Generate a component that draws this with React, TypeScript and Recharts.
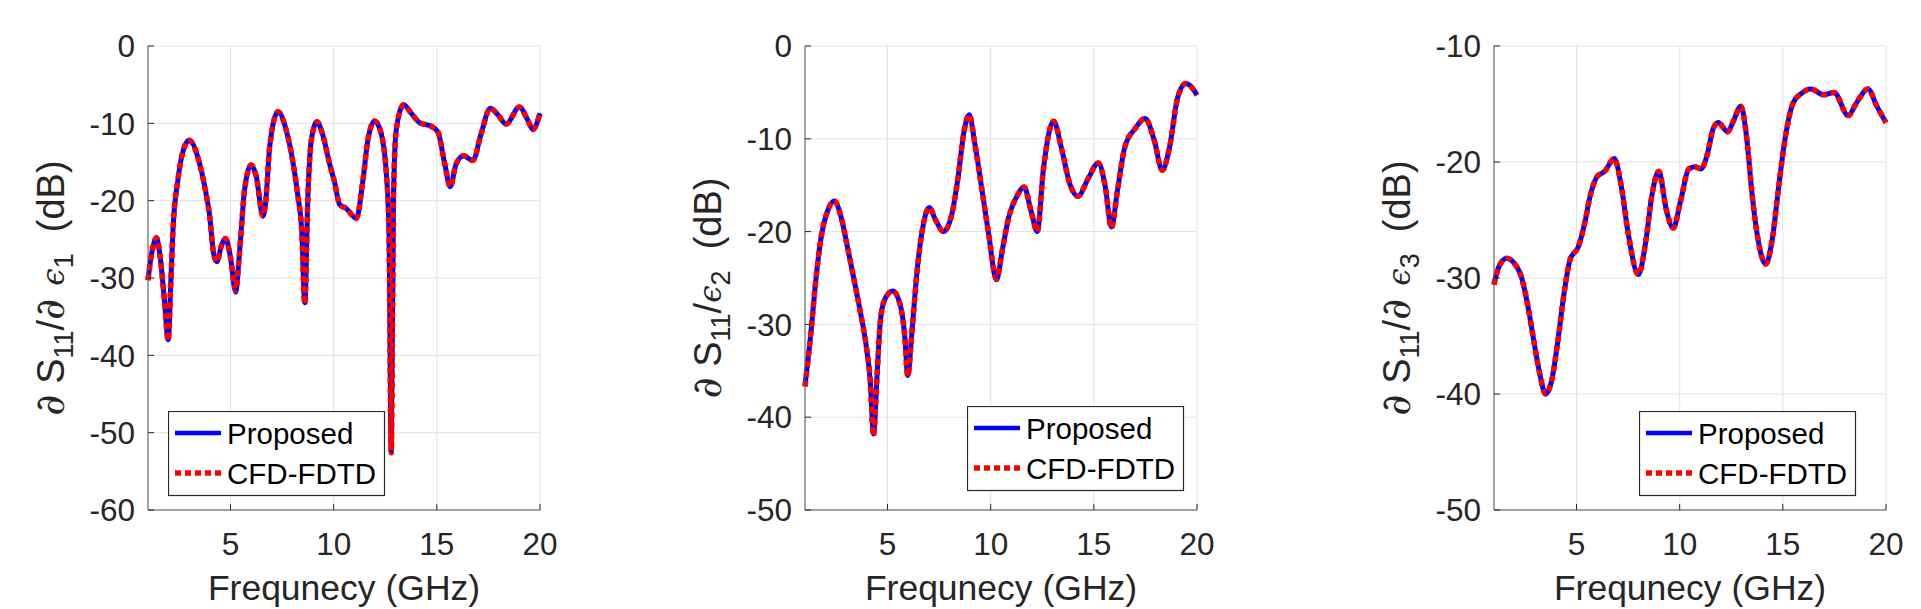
import React from 'react';
import { LineChart, Line, XAxis, YAxis, CartesianGrid, Label } from 'recharts';

const FONT = '"Liberation Sans", Arial, Helvetica, sans-serif';
const MATH_FONT = '"DejaVu Serif", "Liberation Serif", serif';
const INK = '#262626';

const freqTicks = [5, 10, 15, 20];
const yTicks1 = [0, -10, -20, -30, -40, -50, -60];
const yTicks2 = [0, -10, -20, -30, -40, -50];
const yTicks3 = [-10, -20, -30, -40, -50];

// panel 1: dS11/d eps1
const freq1 = [1.0, 1.2, 1.41, 1.6, 1.8, 1.98, 2.1, 2.21, 2.45, 2.67, 2.99, 3.5, 3.75, 3.99, 4.18, 4.34, 4.55, 4.76, 4.99, 5.25, 5.41, 5.52, 5.68, 6.0, 6.25, 6.57, 6.7, 6.9, 7.3, 7.7, 8.03, 8.27, 8.45, 8.6, 8.75, 8.92, 9.19, 9.45, 9.8, 10.05, 10.29, 10.61, 11.1, 11.42, 11.66, 11.98, 12.26, 12.55, 12.68, 12.79, 12.9, 13.03, 13.39, 13.76, 14.16, 14.73, 15.05, 15.38, 15.65, 15.94, 16.3, 16.75, 17.15, 17.59, 17.96, 18.36, 19.0, 19.41, 19.65, 20.0];
const proposed1 = [-30.2, -26.5, -24.8, -27.5, -33, -38.0, -31, -23.8, -17.3, -13.9, -12.2, -15.2, -18.2, -22.0, -26.8, -27.9, -25.9, -24.9, -27.2, -31.8, -27.6, -23.8, -18.6, -15.4, -16.9, -22.0, -20.3, -13.0, -8.5, -10.9, -15.1, -19.5, -23.8, -33.2, -19.5, -12.1, -9.8, -11.3, -15.2, -17.7, -20.5, -21.0, -22.3, -17.3, -12.1, -9.7, -10.9, -16.4, -23.8, -52.4, -19.5, -10.9, -7.6, -8.7, -9.9, -10.4, -11.1, -15.2, -18.2, -15.2, -14.2, -14.8, -11.3, -8.05, -8.9, -10.1, -7.9, -9.6, -10.8, -8.7];
const cfd1 = [-30.3, -26.5, -24.8, -27.5, -33, -38.1, -31, -23.8, -17.3, -13.9, -12.2, -15.2, -18.2, -22.0, -26.8, -27.9, -25.9, -24.9, -27.2, -31.6, -27.6, -23.8, -18.6, -15.4, -16.9, -22.0, -20.3, -13.0, -8.5, -10.9, -15.1, -19.5, -23.8, -33.4, -19.5, -12.1, -9.8, -11.3, -15.2, -17.7, -20.5, -21.0, -22.3, -17.3, -12.1, -9.7, -10.9, -16.4, -23.8, -52.6, -19.5, -10.9, -7.6, -8.7, -9.9, -10.4, -11.1, -15.2, -18.2, -15.2, -14.2, -14.8, -11.3, -8.05, -8.9, -10.1, -7.9, -9.6, -10.8, -8.7];

// panel 2: dS11/eps2
const freq2 = [1.0, 1.3, 1.53, 1.79, 2.09, 2.42, 2.78, 3.07, 3.37, 3.67, 3.96, 4.16, 4.32, 4.5, 4.65, 4.85, 5.25, 5.64, 5.84, 5.98, 6.19, 6.43, 6.73, 7.02, 7.32, 7.71, 8.11, 8.41, 8.7, 8.96, 9.23, 9.55, 9.89, 10.28, 10.58, 10.87, 11.27, 11.62, 11.96, 12.26, 12.55, 13.05, 13.44, 13.84, 14.23, 14.72, 15.22, 15.55, 15.85, 16.15, 16.5, 17.0, 17.49, 17.92, 18.32, 18.67, 19.07, 19.46, 19.76, 20.0];
const proposed2 = [-36.6, -30.6, -25.1, -20.5, -17.8, -16.7, -18.7, -21.8, -25.1, -28.5, -32.2, -36.0, -41.8, -35.2, -29.7, -27.4, -26.4, -28.1, -31.4, -35.5, -30.6, -24.3, -19.3, -17.4, -18.7, -20.0, -18.2, -14.3, -9.3, -7.4, -10.5, -15.1, -20.1, -25.2, -21.8, -18.5, -16.2, -15.2, -17.8, -20.0, -13.4, -8.1, -11.1, -14.9, -16.2, -14.3, -12.6, -15.1, -19.5, -15.5, -10.9, -8.9, -7.8, -10.1, -13.4, -10.9, -5.5, -4.05, -4.5, -5.3];
const cfd2 = [-36.7, -30.6, -25.1, -20.5, -17.8, -16.7, -18.7, -21.8, -25.1, -28.5, -32.2, -36.0, -42.0, -35.2, -29.7, -27.4, -26.4, -28.1, -31.4, -35.6, -30.6, -24.3, -19.3, -17.4, -18.7, -20.0, -18.2, -14.3, -9.3, -7.4, -10.5, -15.1, -20.1, -25.1, -21.8, -18.5, -16.2, -15.2, -17.8, -20.0, -13.4, -8.1, -11.1, -14.9, -16.2, -14.3, -12.6, -15.1, -19.6, -15.5, -10.9, -8.9, -7.8, -10.1, -13.4, -10.9, -5.5, -4.05, -4.5, -5.3];

// panel 3: dS11/d eps3
const freq3 = [1.0, 1.22, 1.61, 2.01, 2.31, 2.61, 2.9, 3.2, 3.5, 3.8, 4.09, 4.39, 4.69, 5.09, 5.38, 5.68, 5.98, 6.37, 6.83, 7.17, 7.5, 8.0, 8.36, 8.66, 8.99, 9.35, 9.69, 10.04, 10.44, 10.74, 11.04, 11.33, 11.63, 11.87, 12.32, 12.62, 12.96, 13.26, 13.51, 13.81, 14.17, 14.51, 14.8, 15.1, 15.5, 15.89, 16.35, 16.98, 17.48, 18.17, 18.57, 19.13, 19.56, 20.0];
const proposed3 = [-30.5, -29.1, -28.3, -28.8, -29.8, -32.1, -35.1, -38.1, -40.0, -38.8, -35.5, -31.4, -28.4, -27.3, -25.4, -22.8, -21.3, -20.8, -19.7, -22.1, -26.1, -29.7, -26.8, -22.8, -20.8, -24.1, -25.7, -23.4, -20.6, -20.4, -20.6, -19.4, -17.1, -16.6, -17.4, -16.4, -15.2, -18.1, -22.8, -26.8, -28.8, -26.4, -22.1, -18.1, -14.9, -14.1, -13.7, -14.2, -14.0, -16.0, -14.9, -13.7, -15.2, -16.6];
const cfd3 = [-30.6, -29.1, -28.3, -28.8, -29.8, -32.1, -35.1, -38.1, -40.0, -38.8, -35.5, -31.4, -28.4, -27.3, -25.4, -22.8, -21.3, -20.8, -19.7, -22.1, -26.1, -29.7, -26.8, -22.8, -20.8, -24.1, -25.7, -23.4, -20.6, -20.4, -20.6, -19.4, -17.1, -16.6, -17.4, -16.4, -15.2, -18.1, -22.8, -26.8, -28.8, -26.4, -22.1, -18.1, -14.9, -14.1, -13.7, -14.2, -14.0, -16.0, -14.9, -13.7, -15.2, -16.6];

const PLOT_TOP = 46;
const PLOT_BOTTOM = 510;
const PLOT_W = 392;
const Y_AXIS_W = 148;
const RIGHT_PAD = 30;
const H = 609;

const toRows = (freq: number[], a: number[], b: number[]) =>
  freq.map((f, i) => ({ f, proposed: a[i], cfd: b[i] }));

const YTitle = ({ viewBox, eps, withPartial }: any) => {
  const cx = (viewBox?.x ?? 0) + (viewBox?.width ?? Y_AXIS_W) - 84;
  const cy = PLOT_TOP + (PLOT_BOTTOM - PLOT_TOP) / 2 + 10;
  return (
    <text
      x={cx}
      y={cy}
      transform={`rotate(-90 ${cx} ${cy})`}
      textAnchor="middle"
      fontSize={38}
      fontFamily={FONT}
      fill={INK}
    >
      <tspan fontFamily={MATH_FONT} fontStyle="italic" fontSize={41}>∂</tspan>
      <tspan>{'\u00a0S'}</tspan>
      <tspan fontSize={27} dy={9}>11</tspan>
      <tspan dy={-9}>/</tspan>
      {withPartial && <tspan fontFamily={MATH_FONT} fontStyle="italic" fontSize={41}>{'∂\u00a0'}</tspan>}
      <tspan fontFamily={MATH_FONT} fontStyle="italic" fontSize={31}>ϵ</tspan>
      <tspan fontSize={27} dy={9}>{eps}</tspan>
      <tspan dy={-9}>{'\u00a0\u00a0(dB)'}</tspan>
    </text>
  );
};

const XTitle = ({ viewBox }: any) => {
  const x = (viewBox?.x ?? Y_AXIS_W) + (viewBox?.width ?? PLOT_W) / 2;
  const y = PLOT_BOTTOM + 90;
  return (
    <text x={x} y={y} textAnchor="middle" fontSize={35.5} fontFamily={FONT} fill={INK}>
      Frequnecy (GHz)
    </text>
  );
};

const LegendBox = ({ left, top }: { left: number; top: number }) => (
  <svg width={218} height={86} style={{ position: 'absolute', left, top }}>
    <rect x={0.5} y={0.5} width={216} height={84} fill="#fff" stroke={INK} strokeWidth={1.2} />
    <line x1={7} x2={53} y1={22} y2={22} stroke="#0000ff" strokeWidth={4.5} />
    <text x={59} y={33} fontSize={29.5} fontFamily={FONT} fill="#000">Proposed</text>
    <line x1={7} x2={53} y1={62} y2={62} stroke="#ff0000" strokeWidth={5.5} strokeDasharray="6 4" />
    <text x={59} y={73} fontSize={29.5} fontFamily={FONT} fill="#000">CFD-FDTD</text>
  </svg>
);

interface PanelProps {
  plotLeft: number;
  rows: { f: number; proposed: number; cfd: number }[];
  yDomain: [number, number];
  yTicks: number[];
  eps: string;
  withPartial: boolean;
  legendLeft: number;
  legendTop: number;
}

const Panel = ({ plotLeft, rows, yDomain, yTicks, eps, withPartial, legendLeft, legendTop }: PanelProps) => (
  <>
    <div style={{ position: 'absolute', left: plotLeft - Y_AXIS_W, top: 0 }}>
      <LineChart
        width={Y_AXIS_W + PLOT_W + RIGHT_PAD}
        height={H}
        data={rows}
        margin={{ top: PLOT_TOP, right: RIGHT_PAD, bottom: 0, left: 0 }}
      >
        <CartesianGrid stroke="#e2e2e2" strokeWidth={1} />
        <XAxis
          dataKey="f"
          type="number"
          domain={[1, 20]}
          ticks={freqTicks}
          interval={0}
          height={H - PLOT_BOTTOM}
          tickSize={-6}
          tickMargin={29}
          axisLine={{ stroke: '#555' }}
          tickLine={{ stroke: INK }}
          tick={{ fill: INK, fontSize: 31.5, fontFamily: FONT }}
        >
          <Label content={<XTitle />} />
        </XAxis>
        <XAxis
          xAxisId="top"
          orientation="top"
          dataKey="f"
          type="number"
          domain={[1, 20]}
          ticks={freqTicks}
          interval={0}
          height={0}
          tick={false}
          tickSize={-6}
          axisLine={{ stroke: '#555' }}
          tickLine={{ stroke: INK }}
        />
        <YAxis
          type="number"
          domain={yDomain}
          ticks={yTicks}
          interval={0}
          width={Y_AXIS_W}
          tickSize={-6}
          tickMargin={19}
          axisLine={{ stroke: '#555' }}
          tickLine={{ stroke: INK }}
          tick={{ fill: INK, fontSize: 31.5, fontFamily: FONT }}
        >
          <Label content={<YTitle eps={eps} withPartial={withPartial} />} />
        </YAxis>
        <YAxis
          yAxisId="right"
          orientation="right"
          type="number"
          domain={yDomain}
          ticks={yTicks}
          interval={0}
          width={0}
          tick={false}
          tickSize={-6}
          axisLine={{ stroke: '#555' }}
          tickLine={{ stroke: INK }}
        />
        <Line
          dataKey="proposed"
          type="monotone"
          stroke="#0000ff"
          strokeWidth={5}
          dot={false}
          isAnimationActive={false}
        />
        <Line
          dataKey="cfd"
          type="monotone"
          stroke="#ff0000"
          strokeWidth={5.5}
          strokeDasharray="6 4"
          dot={false}
          isAnimationActive={false}
        />
      </LineChart>
    </div>
    <LegendBox left={legendLeft} top={legendTop} />
  </>
);

export default function App() {
  return (
    <div style={{ position: 'absolute', left: 0, top: 0, width: 1921, height: 609, background: '#fff', overflow: 'hidden' }}>
      <Panel
        plotLeft={148}
        rows={toRows(freq1, proposed1, cfd1)}
        yDomain={[-60, 0]}
        yTicks={yTicks1}
        eps="1"
        withPartial
        legendLeft={168}
        legendTop={411}
      />
      <Panel
        plotLeft={805}
        rows={toRows(freq2, proposed2, cfd2)}
        yDomain={[-50, 0]}
        yTicks={yTicks2}
        eps="2"
        withPartial={false}
        legendLeft={967}
        legendTop={406}
      />
      <Panel
        plotLeft={1494}
        rows={toRows(freq3, proposed3, cfd3)}
        yDomain={[-50, -10]}
        yTicks={yTicks3}
        eps="3"
        withPartial
        legendLeft={1639}
        legendTop={411}
      />
    </div>
  );
}
